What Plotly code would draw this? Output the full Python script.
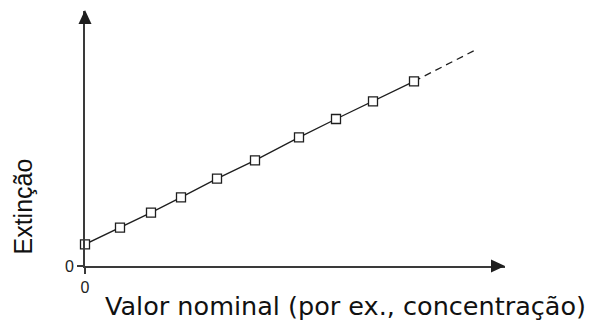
import plotly.graph_objects as go

# Data (arbitrary units)
conc = [0, 35, 66, 96, 132, 170, 214, 251, 288, 329]
extincao = [21.7, 38.3, 53.3, 68.7, 87.3, 105.7, 128.7, 147, 164.7, 184.7]
extrap_x = [329, 389]
extrap_y = [184.7, 215.3]
x_tick_vals = [0]
x_tick_text = ["0"]
y_tick_vals = [0]
y_tick_text = ["0"]

XMAX = 420
YMAX = 255
AX_COLOR = "#3a3a3a"
LINE_COLOR = "#1e1e1e"

fig = go.Figure()
fig.add_trace(go.Scatter(x=extrap_x, y=extrap_y, mode="lines",
                         line=dict(color=LINE_COLOR, width=1.3, dash="7px,5px"),
                         hoverinfo="skip", showlegend=False, cliponaxis=False))
fig.add_trace(go.Scatter(x=conc, y=extincao, mode="lines+markers",
                         line=dict(color=LINE_COLOR, width=1.3),
                         marker=dict(symbol="square", size=9, color="white",
                                     line=dict(color=LINE_COLOR, width=1.3)),
                         showlegend=False, cliponaxis=False))

# arrow heads (paper coordinates)
def px(v):
    return v / XMAX

def py(v):
    return v / YMAX

fig.add_shape(type="path", xref="paper", yref="paper",
              path=f"M {px(-6.5)} {py(YMAX-13)} L {px(6.5)} {py(YMAX-13)} L 0 {py(YMAX+1)} Z",
              fillcolor=LINE_COLOR, line=dict(width=0))
fig.add_shape(type="path", xref="paper", yref="paper",
              path=f"M {px(XMAX-14)} {py(-6.5)} L {px(XMAX-14)} {py(6.5)} L {px(XMAX)} 0 Z",
              fillcolor=LINE_COLOR, line=dict(width=0))

fig.update_xaxes(range=[0, XMAX], showgrid=False, zeroline=False,
                 showline=True, linecolor=AX_COLOR, linewidth=1.8,
                 ticks="outside", ticklen=6, tickwidth=1.5, tickcolor=AX_COLOR,
                 tickvals=x_tick_vals, ticktext=x_tick_text, ticklabelstandoff=0,
                 tickfont=dict(family="Liberation Sans", size=16, color="#222"))
fig.update_yaxes(range=[0, YMAX], showgrid=False, zeroline=False,
                 showline=True, linecolor=AX_COLOR, linewidth=1.8,
                 ticks="outside", ticklen=6, tickwidth=1.5, tickcolor=AX_COLOR,
                 tickvals=y_tick_vals, ticktext=y_tick_text,
                 tickfont=dict(family="Liberation Sans", size=16, color="#222"))

fig.add_annotation(text="Valor nominal (por ex., concentração)", xref="paper", yref="paper",
                   x=(345 - 85) / XMAX, y=-(306 - 266) / YMAX, xanchor="center", yanchor="middle",
                   showarrow=False, font=dict(family="DejaVu Sans", size=25.5, color="#111"))
fig.add_annotation(text="Extinção", xref="paper", yref="paper",
                   x=-(85 - 23) / XMAX, y=(266 - 206.5) / YMAX, xanchor="center", yanchor="middle",
                   textangle=-90, showarrow=False,
                   font=dict(family="Liberation Sans", size=25, color="#111"))

fig.update_layout(width=593, height=322, margin=dict(l=85, r=593 - 85 - XMAX, t=322 - 56 - YMAX, b=56),
                  paper_bgcolor="white", plot_bgcolor="white")

fig.write_html("out.html", config={"displayModeBar": False},
               post_script="document.body.style.margin='0';")
